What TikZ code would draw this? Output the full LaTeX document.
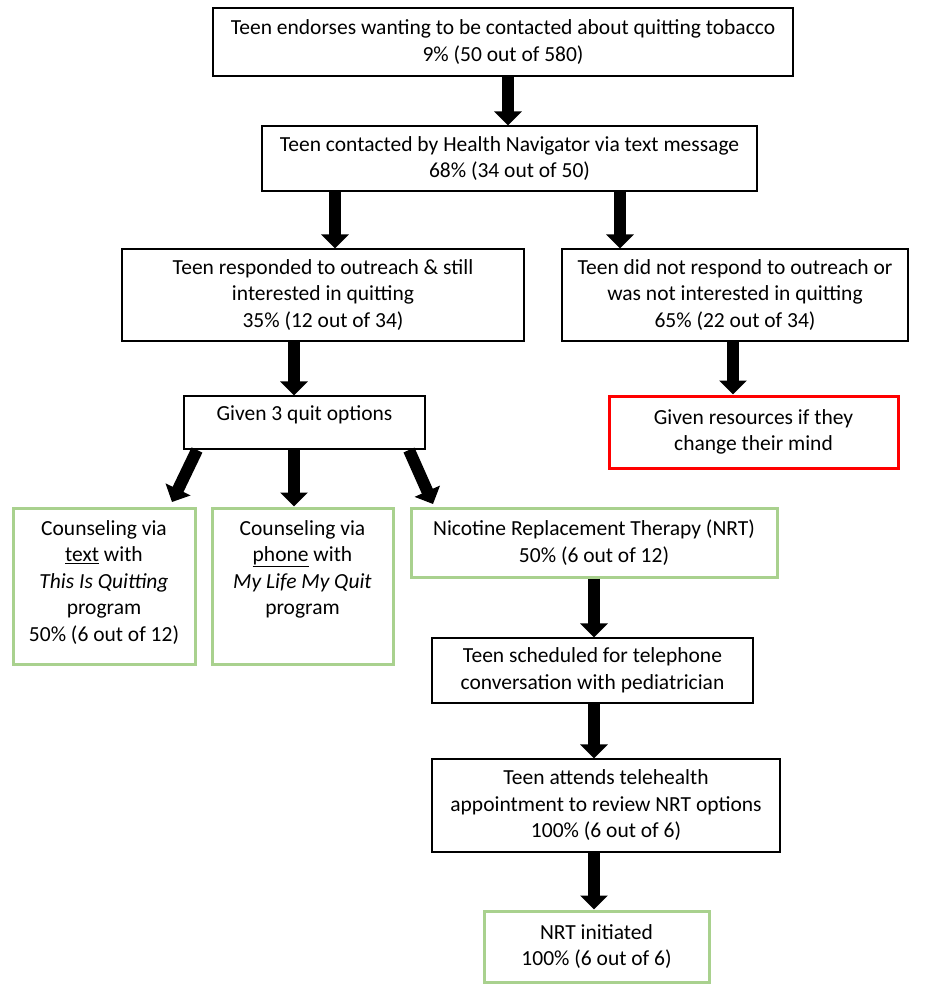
\documentclass[tikz,border=0pt]{standalone}
\usepackage{fontspec}
\setmainfont{Carlito}
\usetikzlibrary{arrows.meta,calc}
\definecolor{boxgreen}{RGB}{169,209,142}
\definecolor{boxred}{RGB}{255,0,0}
\begin{document}
\begin{tikzpicture}[x=1pt,y=-1pt,
  every node/.style={font=\fontsize{21.5}{26.5}\selectfont, align=center, inner sep=0pt},
  plainbox/.style={draw=black, line width=1.2pt, fill=white},
  greenbox/.style={draw=boxgreen, line width=3pt, fill=white},
  redbox/.style={draw=boxred, line width=3pt, fill=white},
  barrow/.style={line width=12pt, -{Triangle[width=27pt,length=14pt]}}
]
\useasboundingbox (0,0) rectangle (936,992);

\node[plainbox, minimum width=580pt, minimum height=68pt] (b1) at (503,42)
  {Teen endorses wanting to be contacted about quitting tobacco\\9\% (50 out of 580)};
\node[plainbox, minimum width=495pt, minimum height=65pt] (b2) at (509.5,158.5)
  {Teen contacted by Health Navigator via text message\\68\% (34 out of 50)};
\node[plainbox, minimum width=402pt, minimum height=92pt] (b3l) at (323,295)
  {Teen responded to outreach \& still\\interested in quitting\\35\% (12 out of 34)};
\node[plainbox, minimum width=346pt, minimum height=92pt] (b3r) at (735,295)
  {Teen did not respond to outreach or\\was not interested in quitting\\65\% (22 out of 34)};
\node[plainbox, minimum width=241pt, minimum height=53pt] (b4) at (304.5,422.5)
  {Given 3 quit options\\[-8pt]\mbox{}};
\node[redbox, minimum width=289pt, minimum height=72pt] (red) at (753.5,432)
  {Given resources if they\\change their mind};
\node[greenbox, minimum width=182pt, minimum height=156pt] (g1) at (104,586)
  {Counseling via\\\underline{text} with\\\textit{This Is Quitting}\\program\\50\% (6 out of 12)\\[-16pt]\mbox{}};
\node[greenbox, minimum width=181pt, minimum height=156pt] (g2) at (302.5,586)
  {Counseling via\\\underline{phone} with\\\textit{My Life My Quit}\\program\\\mbox{}\\[-16pt]\mbox{}};
\node[greenbox, minimum width=366pt, minimum height=69pt] (g3) at (594,542.5)
  {Nicotine Replacement Therapy (NRT)\\50\% (6 out of 12)};
\node[plainbox, minimum width=321pt, minimum height=65pt] (b7) at (592.5,670.5)
  {Teen scheduled for telephone\\conversation with pediatrician};
\node[plainbox, minimum width=348pt, minimum height=93pt] (b8) at (606,805.5)
  {Teen attends telehealth\\appointment to review NRT options\\100\% (6 out of 6)};
\node[greenbox, minimum width=225pt, minimum height=71pt] (g4) at (596.5,946.5)
  {NRT initiated\\100\% (6 out of 6)};

\draw[barrow] (b1.south -| 508,0) -- (b2.north -| 508,0);
\draw[barrow] (b2.south -| 335,0) -- (b3l.north -| 335,0);
\draw[barrow] (b2.south -| 620,0) -- (b3r.north -| 620,0);
\draw[barrow] (b3l.south -| 294,0) -- (b4.north -| 294,0);
\draw[barrow] (b3r.south -| 733,0) -- (red.north -| 733,0);
\coordinate (l1) at (197,450);
\coordinate (l2) at (172,502);
\coordinate (r1) at (409,450);
\coordinate (r2) at (433,504);
\draw[barrow] (l1) -- (l2);
\draw[barrow] (b4.south -| 294,0) -- (g2.north -| 294,0);
\draw[barrow] (r1) -- (r2);
\draw[barrow] (g3.south -| 594,0) -- (b7.north -| 594,0);
\draw[barrow] (b7.south -| 594,0) -- (b8.north -| 594,0);
\draw[barrow] (b8.south -| 594,0) -- (g4.north -| 594,0);
\end{tikzpicture}
\end{document}
